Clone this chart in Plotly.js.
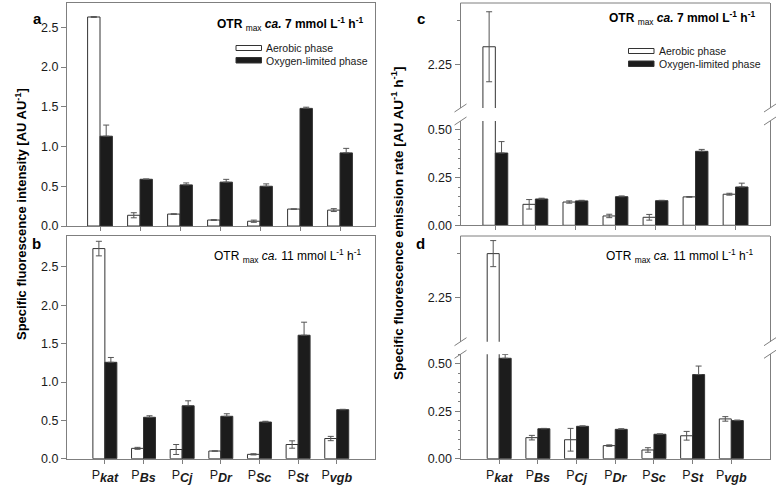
<!DOCTYPE html>
<html><head><meta charset="utf-8">
<script src="https://cdn.plot.ly/plotly-3.0.1.min.js"></script>
<style>html,body{margin:0;padding:0;background:#fff}#chart{width:778px;height:488px}</style>
</head><body><div id="chart"></div>
<script>
// ---------------- data ----------------
const categories = ['kat', 'Bs', 'Cj', 'Dr', 'Sc', 'St', 'vgb'];

// a: specific fluorescence intensity, OTRmax ca. 7
const intensity7Aerobic      = [2.63, 0.135, 0.150, 0.075, 0.060, 0.213, 0.200];
const intensity7AerobicErr   = [0.005, 0.032, 0.004, 0.005, 0.014, 0.003, 0.018];
const intensity7Limited      = [1.13, 0.588, 0.517, 0.552, 0.500, 1.480, 0.920];
const intensity7LimitedErr   = [0.140, 0.003, 0.025, 0.035, 0.030, 0.015, 0.057];

// b: specific fluorescence intensity, OTRmax ca. 11
const intensity11Aerobic     = [2.74, 0.135, 0.120, 0.100, 0.057, 0.185, 0.263];
const intensity11AerobicErr  = [0.095, 0.013, 0.065, 0.003, 0.008, 0.048, 0.028];
const intensity11Limited     = [1.257, 0.540, 0.690, 0.553, 0.478, 1.610, 0.639];
const intensity11LimitedErr  = [0.063, 0.020, 0.065, 0.033, 0.010, 0.170, 0.005];

// c: specific fluorescence emission rate, OTRmax ca. 7
const rate7Aerobic           = [2.30, 0.110, 0.122, 0.049, 0.042, 0.149, 0.163];
const rate7AerobicErr        = [0.100, 0.025, 0.006, 0.009, 0.015, 0.002, 0.005];
const rate7Limited           = [0.379, 0.138, 0.128, 0.150, 0.129, 0.388, 0.201];
const rate7LimitedErr        = [0.060, 0.004, 0.003, 0.004, 0.002, 0.010, 0.020];

// d: specific fluorescence emission rate, OTRmax ca. 11
const rate11Aerobic          = [2.375, 0.111, 0.100, 0.069, 0.046, 0.121, 0.210];
const rate11AerobicErr       = [0.037, 0.012, 0.060, 0.004, 0.012, 0.023, 0.012];
const rate11Limited          = [0.530, 0.158, 0.171, 0.155, 0.129, 0.444, 0.201];
const rate11LimitedErr       = [0.020, 0.002, 0.002, 0.003, 0.002, 0.045, 0.003];

const yTicksIntensity = [0, 0.5, 1.0, 1.5, 2.0, 2.5];
const yTicksRateLow   = [0, 0.25, 0.5];
const yTicksRateHigh  = [2.25];
const yMinorRateHigh  = [2.375];
const seriesNames = ['Aerobic phase', 'Oxygen-limited phase'];

// ---------------- styling ----------------
const FONT = 'Arial, "Liberation Sans", Helvetica, sans-serif';
const lineGrey = '#7f7f7f';
const barLine = '#333333';
const blackFill = '#1c1c1c';
const errColor = '#555555';
const textCol = '#1a1a1a';
const W = 778, H = 488;
const px = v => v / W;
const py = v => 1 - v / H;

const labels = categories.map(c =>
  'P<sub style="font-size:12.5px !important;font-weight:bold;font-style:italic">' + c + '</sub>');

function pair(xa, ya, white, whiteErr, black, blackErr) {
  return [
    {type: 'bar', name: seriesNames[0], x: labels, y: white, xaxis: xa, yaxis: ya,
     offset: -0.31, width: 0.31, showlegend: false,
     marker: {color: '#ffffff', line: {color: barLine, width: 1}},
     error_y: {type: 'data', array: whiteErr, color: errColor, thickness: 1, width: 3}},
    {type: 'bar', name: seriesNames[1], x: labels, y: black, xaxis: xa, yaxis: ya,
     offset: 0, width: 0.31, showlegend: false,
     marker: {color: blackFill, line: {color: barLine, width: 1}},
     error_y: {type: 'data', array: blackErr, symmetric: false, color: errColor, thickness: 1, width: 3}}
  ];
}

const data = [].concat(
  pair('x', 'y', intensity7Aerobic, intensity7AerobicErr, intensity7Limited, intensity7LimitedErr),
  pair('x2', 'y2', intensity11Aerobic, intensity11AerobicErr, intensity11Limited, intensity11LimitedErr),
  pair('x3', 'y3', rate7Aerobic, rate7AerobicErr, rate7Limited, rate7LimitedErr),
  pair('x3', 'y4', rate7Aerobic, rate7AerobicErr, rate7Limited, rate7LimitedErr),
  pair('x4', 'y5', rate11Aerobic, rate11AerobicErr, rate11Limited, rate11LimitedErr),
  pair('x4', 'y6', rate11Aerobic, rate11AerobicErr, rate11Limited, rate11LimitedErr)
);

const tickfont = {family: FONT, size: 12.5, color: textCol};

function xAx(domain, range, anchor, showLabels, mirror) {
  return {domain, range, anchor, type: 'category', showline: true, linecolor: lineGrey, linewidth: 1,
    mirror, ticks: 'outside', ticklen: 4, tickcolor: lineGrey, tickwidth: 1,
    showgrid: false, zeroline: false, showticklabels: showLabels, tickfont: {family: FONT, size: 12.5, color: textCol},
    fixedrange: true};
}
function yAx(domain, range, anchor, tickvals, fmt, minor) {
  const a = {domain, range, anchor, showline: true, linecolor: lineGrey, linewidth: 1, mirror: true,
    tickmode: 'array', tickvals, tickformat: fmt, ticks: 'outside', ticklen: 5, tickcolor: lineGrey, tickwidth: 1,
    showgrid: false, zeroline: false, tickfont, fixedrange: true};
  if (minor) a.minor = minor;
  return a;
}
function rightAx(over, anchor, range, spec) {
  return Object.assign({overlaying: over, side: 'right', anchor, range, ticks: 'inside', ticklen: 3,
    tickcolor: lineGrey, showticklabels: false, showline: false, showgrid: false, zeroline: false,
    fixedrange: true}, spec);
}

const dA = [px(67), px(375)];
const dC = [px(460.5), px(770)];
const rangeLow7 = [0, 0.547], rangeLow11 = [0, 0.551], rangeHigh = [2.125, 2.425];

const layout = {
  width: W, height: H, margin: {l: 0, r: 0, t: 0, b: 0},
  paper_bgcolor: '#fff', plot_bgcolor: 'rgba(0,0,0,0)',
  barmode: 'overlay', showlegend: false,
  font: {family: FONT, color: textCol},
  xaxis:  xAx(dA, [-0.825, 6.875], 'y', false, true),
  xaxis2: xAx(dA, [-0.98, 6.99], 'y2', true, true),
  xaxis3: xAx(dC, [-0.87, 6.86], 'y3', false, false),
  xaxis4: xAx(dC, [-1.0, 7.0], 'y5', true, false),
  yaxis:  yAx([py(226), py(3)], [0, 2.806], 'x', yTicksIntensity, '.1f'),
  yaxis2: yAx([py(458.7), py(236)], [0, 2.904], 'x2', yTicksIntensity, '.1f'),
  yaxis3: yAx([py(225.3), py(121)], rangeLow7, 'x3', yTicksRateLow, '.2f',
          {tickmode: 'linear', tick0: 0, dtick: 0.05, ticks: 'outside', ticklen: 2, tickcolor: lineGrey}),
  yaxis4: yAx([py(108), py(3)], rangeHigh, 'x3', yTicksRateHigh, '.2f',
          {tickmode: 'array', tickvals: yMinorRateHigh, ticks: 'outside', ticklen: 3, tickcolor: lineGrey}),
  yaxis5: yAx([py(458.7), py(354.3)], rangeLow11, 'x4', yTicksRateLow, '.2f',
          {tickmode: 'linear', tick0: 0, dtick: 0.05, ticks: 'outside', ticklen: 2, tickcolor: lineGrey}),
  yaxis6: yAx([py(341.7), py(236)], rangeHigh, 'x4', yTicksRateHigh, '.2f',
          {tickmode: 'array', tickvals: yMinorRateHigh, ticks: 'outside', ticklen: 3, tickcolor: lineGrey}),
  yaxis7:  rightAx('y3', 'x3', rangeLow7, {tickmode: 'linear', tick0: 0, dtick: 0.05}),
  yaxis8:  rightAx('y4', 'x3', rangeHigh, {tickmode: 'array', tickvals: yTicksRateHigh.concat(yMinorRateHigh)}),
  yaxis9:  rightAx('y5', 'x4', rangeLow11, {tickmode: 'linear', tick0: 0, dtick: 0.05}),
  yaxis10: rightAx('y6', 'x4', rangeHigh, {tickmode: 'array', tickvals: yTicksRateHigh.concat(yMinorRateHigh)}),
  shapes: [],
  annotations: []
};

// frame top lines for broken-axis panels and break marks
[['x3', 'y4', 'y3'], ['x4', 'y6', 'y5']].forEach(([xa, yu, yl]) => {
  layout.shapes.push({type: 'line', xref: xa + ' domain', yref: yu + ' domain', x0: 0, x1: 1, y0: 1, y1: 1,
    line: {color: lineGrey, width: 1}});
  [0, 1].forEach(side => {
    [[yu, 0], [yl, 1]].forEach(([ya, edge]) => {
      layout.shapes.push({type: 'line', xref: xa + ' domain', yref: ya + ' domain',
        xsizemode: 'pixel', ysizemode: 'pixel', xanchor: side, yanchor: edge,
        x0: -6, x1: 6, y0: -4, y1: 4, line: {color: lineGrey, width: 1}});
    });
  });
});

// legend key (panels a and c)
function key(xLeft, yWhite, yBlack, xText, yTextW, yTextB) {
  layout.shapes.push({type: 'rect', xref: 'paper', yref: 'paper', x0: px(xLeft), x1: px(xLeft + 25.5),
    y0: py(yWhite + 5), y1: py(yWhite), fillcolor: '#fff', line: {color: barLine, width: 1}});
  layout.shapes.push({type: 'rect', xref: 'paper', yref: 'paper', x0: px(xLeft), x1: px(xLeft + 25.5),
    y0: py(yBlack + 5.5), y1: py(yBlack), fillcolor: blackFill, line: {color: barLine, width: 1}});
  layout.annotations.push({xref: 'paper', yref: 'paper', x: px(xText), y: py(yTextW), xanchor: 'left', yanchor: 'middle',
    text: seriesNames[0], showarrow: false, font: {family: FONT, size: 10.5, color: textCol}});
  layout.annotations.push({xref: 'paper', yref: 'paper', x: px(xText), y: py(yTextB), xanchor: 'left', yanchor: 'middle',
    text: seriesNames[1], showarrow: false, font: {family: FONT, size: 10.5, color: textCol}});
}
key(236, 45.5, 57.5, 264, 48.3, 60.7);
key(628.5, 48.5, 61, 656.5, 51, 64);

function ann(x, y, text, size, extra) {
  layout.annotations.push(Object.assign({xref: 'paper', yref: 'paper', x: px(x), y: py(y), text,
    showarrow: false, font: {family: FONT, size, color: '#000'}}, extra || {}));
}
// panel letters
ann(31, 8, '<b>a</b>', 15);
ann(30, 243, '<b>b</b>', 15);
ann(421, 8, '<b>c</b>', 15);
ann(421, 243, '<b>d</b>', 15);

// OTR conditions
const otr7 = '<b>OTR</b> <sub>max</sub> <b><i>ca.</i> 7 mmol L<sup>-1</sup> h<sup>-1</sup></b>';
const otr11 = 'OTR <sub>max</sub> <i>ca.</i> 11 mmol L<sup>-1</sup> h<sup>-1</sup>';
ann(365, 24, otr7, 12, {xanchor: 'right', yanchor: 'middle'});
ann(364, 256, otr11, 12, {xanchor: 'right', yanchor: 'middle'});
ann(757, 18, otr7, 12, {xanchor: 'right', yanchor: 'middle'});
ann(756, 256, otr11, 12, {xanchor: 'right', yanchor: 'middle'});

// axis titles
ann(11, 214, '<b>Specific fluorescence intensity [AU AU<sup>-1</sup>]</b>', 13, {textangle: -90});
ann(397, 224, '<b>Specific fluorescence emission rate [AU AU<sup>-1</sup> h<sup>-1</sup>]</b>', 13.5, {textangle: -90});

Plotly.newPlot('chart', data, layout, {displayModeBar: false, staticPlot: true});
</script>
</body></html>
